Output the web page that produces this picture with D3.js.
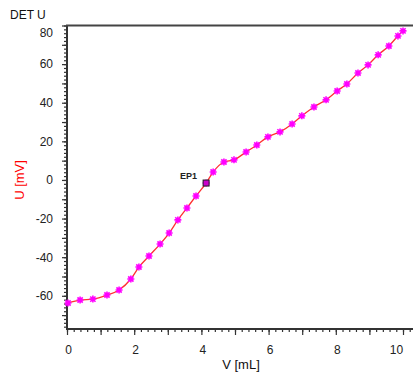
<!DOCTYPE html>
<html><head><meta charset="utf-8">
<script src="https://cdn.jsdelivr.net/npm/d3@7"></script>
<style>
html,body{margin:0;padding:0;background:#fff;}
svg{display:block;font-family:"Liberation Sans",Arial,sans-serif;}
</style></head>
<body>
<script>
// Data
const volume = [0.03,0.39,0.77,1.19,1.55,1.90,2.14,2.44,2.77,3.04,3.30,3.57,3.84,4.14,4.35,4.67,4.97,5.33,5.65,5.98,6.34,6.70,6.99,7.35,7.71,8.04,8.33,8.66,8.96,9.26,9.58,9.85,10.0];
const potential = [-63.7,-62.2,-61.7,-59.6,-57.0,-51.3,-45.1,-39.4,-33.2,-27.5,-20.7,-14.5,-8.3,-1.6,4.1,9.3,10.4,14.5,18.1,22.3,24.9,29.0,33.2,37.8,41.5,46.1,49.7,55.4,59.6,64.8,69.4,74.6,77.2];
const endpoint = {label:"EP1", v:4.14, u:-1.6};
const xLabelTicks = [0,2,4,6,8,10];
const yLabelTicks = [-60,-40,-20,0,20,40,60,80];
const chartTitle = "DET U";
const xTitle = "V [mL]";
const yTitle = "U [mV]";

const W = 413, H = 372;
const svg = d3.select("body").append("svg").attr("width", W).attr("height", H);

const x = d3.scaleLinear().domain([0, 10.3]).range([67, 67 + 10.3*33.6]);
const y = d3.scaleLinear().domain([-77.2, 80]).range([329, 25.5]);

const axisColor = "#333";
const fontCol = "#222";
const fmt = d => String(d);

// x axis ticks
const xMinor = d3.range(0, 10.21, 0.2).map(d => +d.toFixed(1));
const xMajor = d3.range(0, 11, 1);
svg.append("g").attr("transform", "translate(0,329)")
  .call(d3.axisBottom(x).tickValues(xMinor).tickSize(3).tickFormat(""))
  .call(g => g.select(".domain").remove())
  .call(g => g.selectAll("line").attr("stroke", axisColor).attr("stroke-width", 1.2));
svg.append("g").attr("transform", "translate(0,329)")
  .call(d3.axisBottom(x).tickValues(xMajor).tickSize(6).tickFormat(""))
  .call(g => g.select(".domain").remove())
  .call(g => g.selectAll("line").attr("stroke", axisColor).attr("stroke-width", 1.2));
const xl = svg.append("g").attr("transform", "translate(0,329)")
  .call(d3.axisBottom(x).tickValues(xLabelTicks).tickSize(0).tickPadding(16).tickFormat(fmt))
  .call(g => g.select(".domain").remove());
xl.selectAll("text").attr("font-size", 12).attr("fill", fontCol).attr("font-family", "Liberation Sans, Arial, sans-serif")
  .attr("dx", d => d === 10 ? -7 : 1);

// y axis ticks
const yMinor = d3.range(-76, 81, 2);
const yMajor = d3.range(-70, 81, 10);
svg.append("g").attr("transform", "translate(67,0)")
  .call(d3.axisLeft(y).tickValues(yMinor).tickSize(3).tickFormat(""))
  .call(g => g.select(".domain").remove())
  .call(g => g.selectAll("line").attr("stroke", axisColor).attr("stroke-width", 1.2));
svg.append("g").attr("transform", "translate(67,0)")
  .call(d3.axisLeft(y).tickValues(yMajor).tickSize(5).tickFormat(""))
  .call(g => g.select(".domain").remove())
  .call(g => g.selectAll("line").attr("stroke", axisColor).attr("stroke-width", 1.2));
const yl = svg.append("g").attr("transform", "translate(67,0)")
  .call(d3.axisLeft(y).tickValues(yLabelTicks).tickSize(0).tickPadding(14).tickFormat(fmt))
  .call(g => g.select(".domain").remove());
yl.selectAll("text").attr("font-size", 12).attr("fill", fontCol).attr("font-family", "Liberation Sans, Arial, sans-serif")
  .attr("dy", d => d === 80 ? "0.95em" : "0.32em");

// axis lines
svg.append("line").attr("x1", 67).attr("x2", 67).attr("y1", y.range()[1]).attr("y2", 329.5)
  .attr("stroke", axisColor).attr("stroke-width", 2);
svg.append("line").attr("x1", 66).attr("x2", W).attr("y1", 329).attr("y2", 329)
  .attr("stroke", axisColor).attr("stroke-width", 2);
svg.append("line").attr("x1", 66).attr("x2", W).attr("y1", 25.5).attr("y2", 25.5)
  .attr("stroke", "#444").attr("stroke-width", 2);

// titles
svg.append("text").attr("x", 10).attr("y", 19).text(chartTitle)
  .attr("font-size", 12).attr("fill", "#111");
svg.append("text").attr("transform", "translate(24,180) rotate(-90)")
  .attr("text-anchor", "middle").text(yTitle).attr("font-size", 13).attr("fill", "#ff0000");
svg.append("text").attr("x", 241).attr("y", 369).attr("text-anchor", "middle")
  .text(xTitle).attr("font-size", 13).attr("fill", "#111");

// curve
const pts = volume.map((v, i) => [v, potential[i]]);
svg.append("path").datum(pts)
  .attr("fill", "none").attr("stroke", "#ff3030").attr("stroke-width", 1.3)
  .attr("d", d3.line().x(d => x(d[0])).y(d => y(d[1])).curve(d3.curveMonotoneX));

// star markers
const r = 3.5;
const mk = svg.append("g").selectAll("g").data(pts).join("g")
  .attr("transform", d => `translate(${x(d[0])},${y(d[1])})`);
mk.append("path")
  .attr("d", `M${-r},0L${r},0M0,${-r}L0,${r}M${-r*0.75},${-r*0.75}L${r*0.75},${r*0.75}M${-r*0.75},${r*0.75}L${r*0.75},${-r*0.75}`)
  .attr("stroke", "#ff00ff").attr("stroke-width", 1.6);
mk.append("circle").attr("r", 1.8).attr("fill", "#ff00ff");

// endpoint
svg.append("rect").attr("x", x(endpoint.v) - 3).attr("y", y(endpoint.u) - 3)
  .attr("width", 6).attr("height", 6).attr("fill", "#cc00cc").attr("stroke", "#222").attr("stroke-width", 1);
svg.append("text").attr("x", x(endpoint.v) - 26).attr("y", y(endpoint.u) - 4)
  .text(endpoint.label).attr("font-size", 9).attr("font-weight", "bold").attr("fill", "#222");
</script>
</body></html>
